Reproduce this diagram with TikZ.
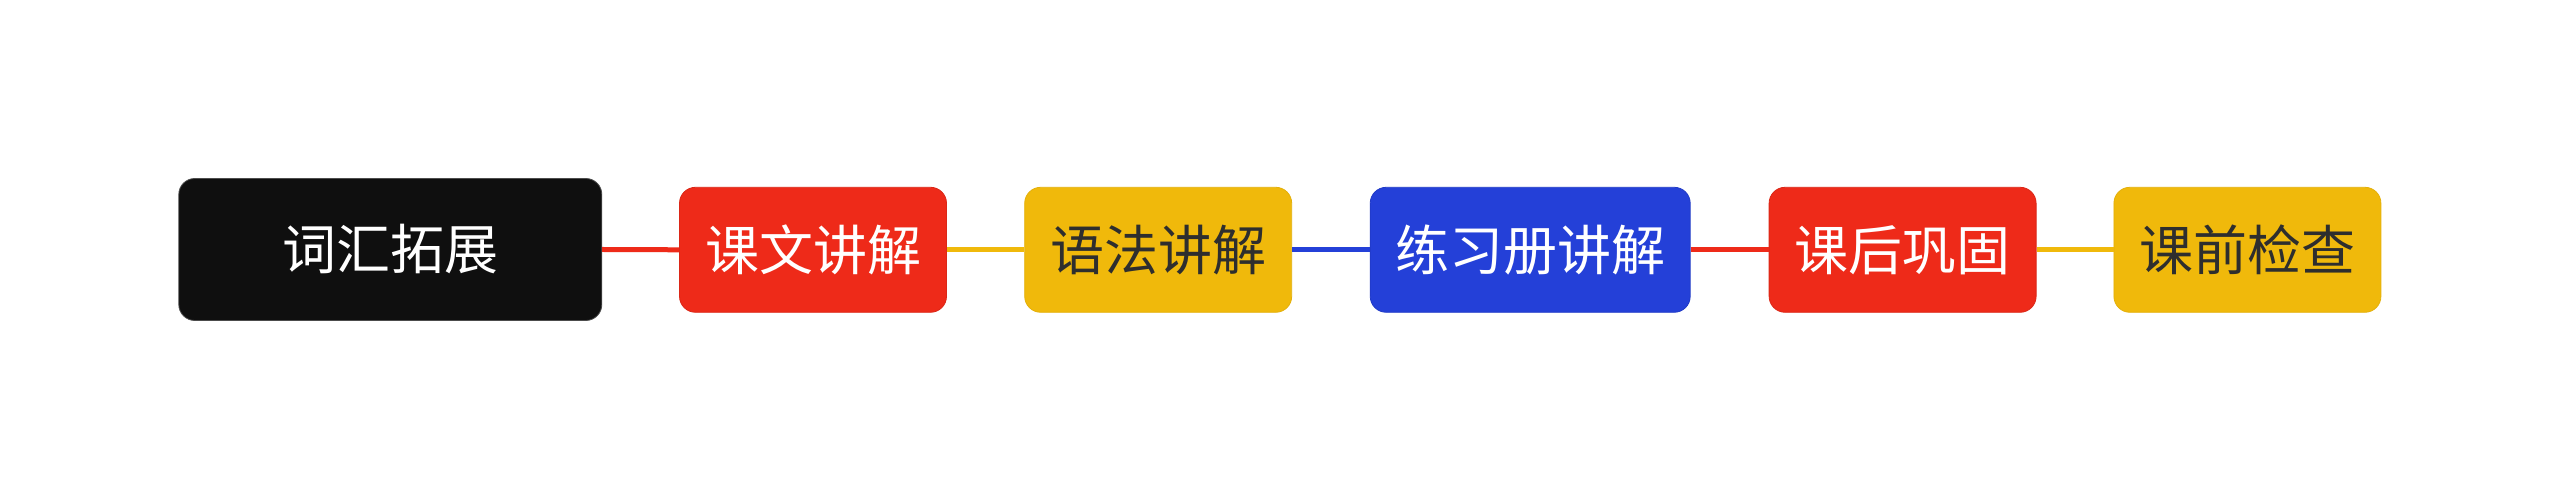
\documentclass[tikz,border=0pt]{standalone}
\usepackage{fontspec}
\newfontfamily\cjk{Noto Sans CJK SC}
\definecolor{cblack}{HTML}{0F0F0F}
\definecolor{cred}{HTML}{EE2A19}
\definecolor{cyellow}{HTML}{F0B90B}
\definecolor{cblue}{HTML}{2440D8}
\definecolor{ctext}{HTML}{2E2E2E}
\tikzset{
  box/.style={rectangle, rounded corners=16pt, inner sep=0pt, minimum height=125pt, minimum width=267pt,
    font=\cjk\fontsize{54}{60}\selectfont, line width=0.8pt},
  rootbox/.style={box, fill=cblack, draw=black!70, text=white, minimum width=423pt, minimum height=142pt},
  redbox/.style={box, fill=cred, draw=cred!92!black, text=white},
  yellowbox/.style={box, fill=cyellow, draw=cyellow!95!black, text=ctext},
  bluebox/.style={box, fill=cblue, draw=cblue!92!black, text=white, minimum width=320pt},
  link/.style={line width=5pt}
}
\begin{document}
\begin{tikzpicture}[x=1pt,y=1pt]
\useasboundingbox[fill=white] (0,0) rectangle (2560,500);
\node[rootbox] (root) at (390.3,250.5) {词汇拓展};
\node[redbox] (kwjj) at (813,250.2) {课文讲解};
\node[yellowbox] (yfjj) at (1158.2,250.2) {语法讲解};
\node[bluebox] (lxcjj) at (1530.2,250.2) {练习册讲解};
\node[redbox] (khgg) at (1902.6,250.2) {课后巩固};
\node[yellowbox] (kqjc) at (2247.4,250.2) {课前检查};
\draw[link, cred] (root.east) -- (kwjj.west);
\draw[link, cyellow] (kwjj.east) -- (yfjj.west);
\draw[link, cblue] (yfjj.east) -- (lxcjj.west);
\draw[link, cred] (lxcjj.east) -- (khgg.west);
\draw[link, cyellow] (khgg.east) -- (kqjc.west);
\end{tikzpicture}
\end{document}
